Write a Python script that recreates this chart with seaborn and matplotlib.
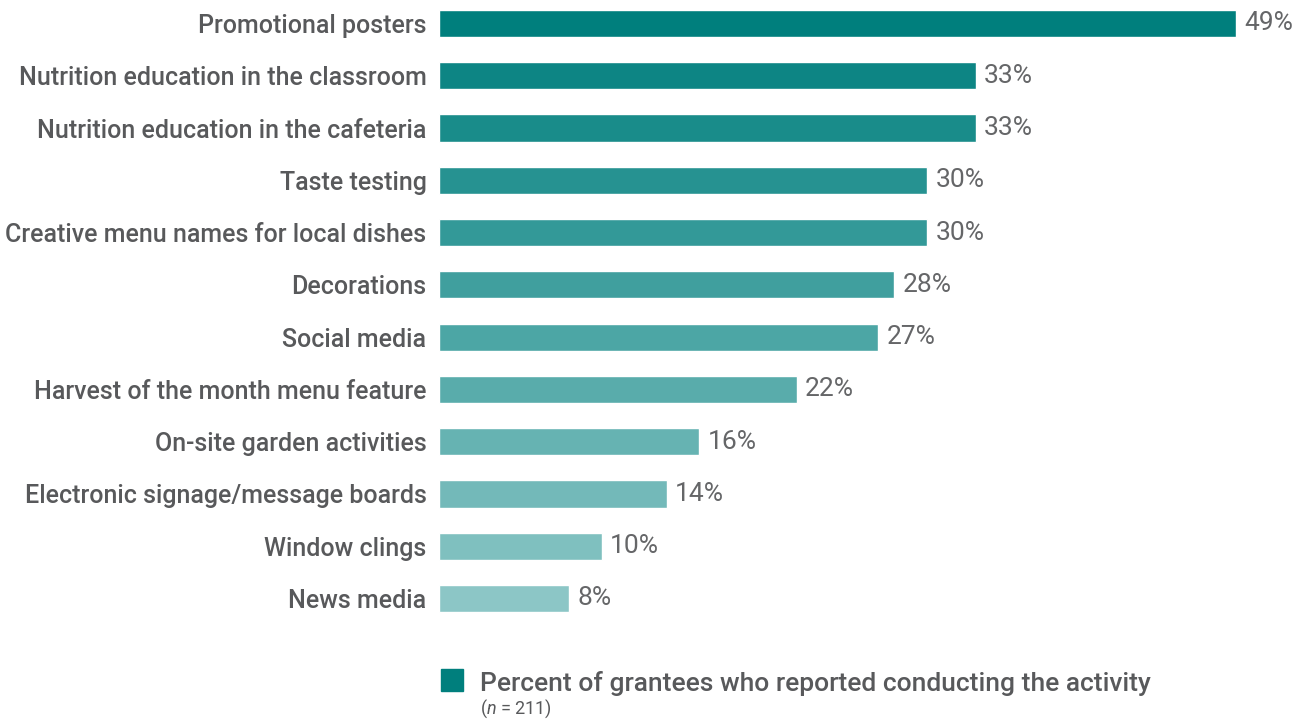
import matplotlib
matplotlib.use("Agg")
import matplotlib.pyplot as plt
from matplotlib.patches import Rectangle
import seaborn as sns
import pandas as pd
import numpy as np

activities = [
    "Promotional posters",
    "Nutrition education in the classroom",
    "Nutrition education in the cafeteria",
    "Taste testing",
    "Creative menu names for local dishes",
    "Decorations",
    "Social media",
    "Harvest of the month menu feature",
    "On-site garden activities",
    "Electronic signage/message boards",
    "Window clings",
    "News media",
]
percents = [49, 33, 33, 30, 30, 28, 27, 22, 16, 14, 10, 8]

legend_label = "Percent of grantees who reported conducting the activity"
sample_note = r"($\mathit{n}$ = 211)"

sns.set_theme(style="white")
plt.rcParams["font.family"] = ["Roboto", "DejaVu Sans"]
plt.rcParams["mathtext.fontset"] = "custom"
plt.rcParams["mathtext.it"] = "Roboto:italic"
plt.rcParams["mathtext.rm"] = "Roboto"

text_color = "#58595b"
value_color = "#656668"
dark = np.array([0x00, 0x7f, 0x7d]) / 255
light = np.array([0x8c, 0xc6, 0xc6]) / 255
shades = [tuple(dark + (light - dark) * i / (len(activities) - 1)) for i in range(len(activities))]

df = pd.DataFrame({"activity": activities, "percent": percents})

W, H = 1309, 719
fig = plt.figure(figsize=(W / 100, H / 100), dpi=100)

px_per_unit = 797 / 49
x_max = 52
pitch = 52.27
left_px, first_center = 439, 23.5
top_px = first_center - 0.5 * pitch
height_px = pitch * len(activities)
ax = fig.add_axes([left_px / W, 1 - (top_px + height_px) / H,
                   x_max * px_per_unit / W, height_px / H])

sns.barplot(data=df, x="percent", y="activity", hue="activity",
            palette=shades, legend=False, width=0.52, ax=ax,
            saturation=1)
ax.set_xlim(0, x_max)
ax.set_ylim(len(activities) - 0.5, -0.5)
for s in ax.spines.values():
    s.set_visible(False)
ax.set_xticks([])
ax.set_xlabel("")
ax.set_ylabel("")
ax.tick_params(axis="y", length=0, pad=9)
for lbl in ax.get_yticklabels():
    lbl.set_fontsize(18)
    lbl.set_color(text_color)
    lbl.set_fontweight("medium")

for cont in ax.containers:
    ax.bar_label(cont, labels=[f"{v:.0f}%" for v in cont.datavalues],
                 padding=6, fontsize=19, color=value_color,
                 fontweight="normal")

# legend: swatch, series label and sample size
fig.patches.append(Rectangle((441 / W, 1 - 691 / H), 22 / W, 22 / H,
                             transform=fig.transFigure, color=shades[0]))
fig.text(480 / W, 1 - 684 / H, legend_label, fontsize=19, color=text_color,
         fontweight="medium", va="center", ha="left")
fig.text(480 / W, 1 - 709 / H, sample_note, fontsize=13, color=text_color,
         va="center", ha="left")

fig.savefig("out.png", dpi=100, facecolor="white")
